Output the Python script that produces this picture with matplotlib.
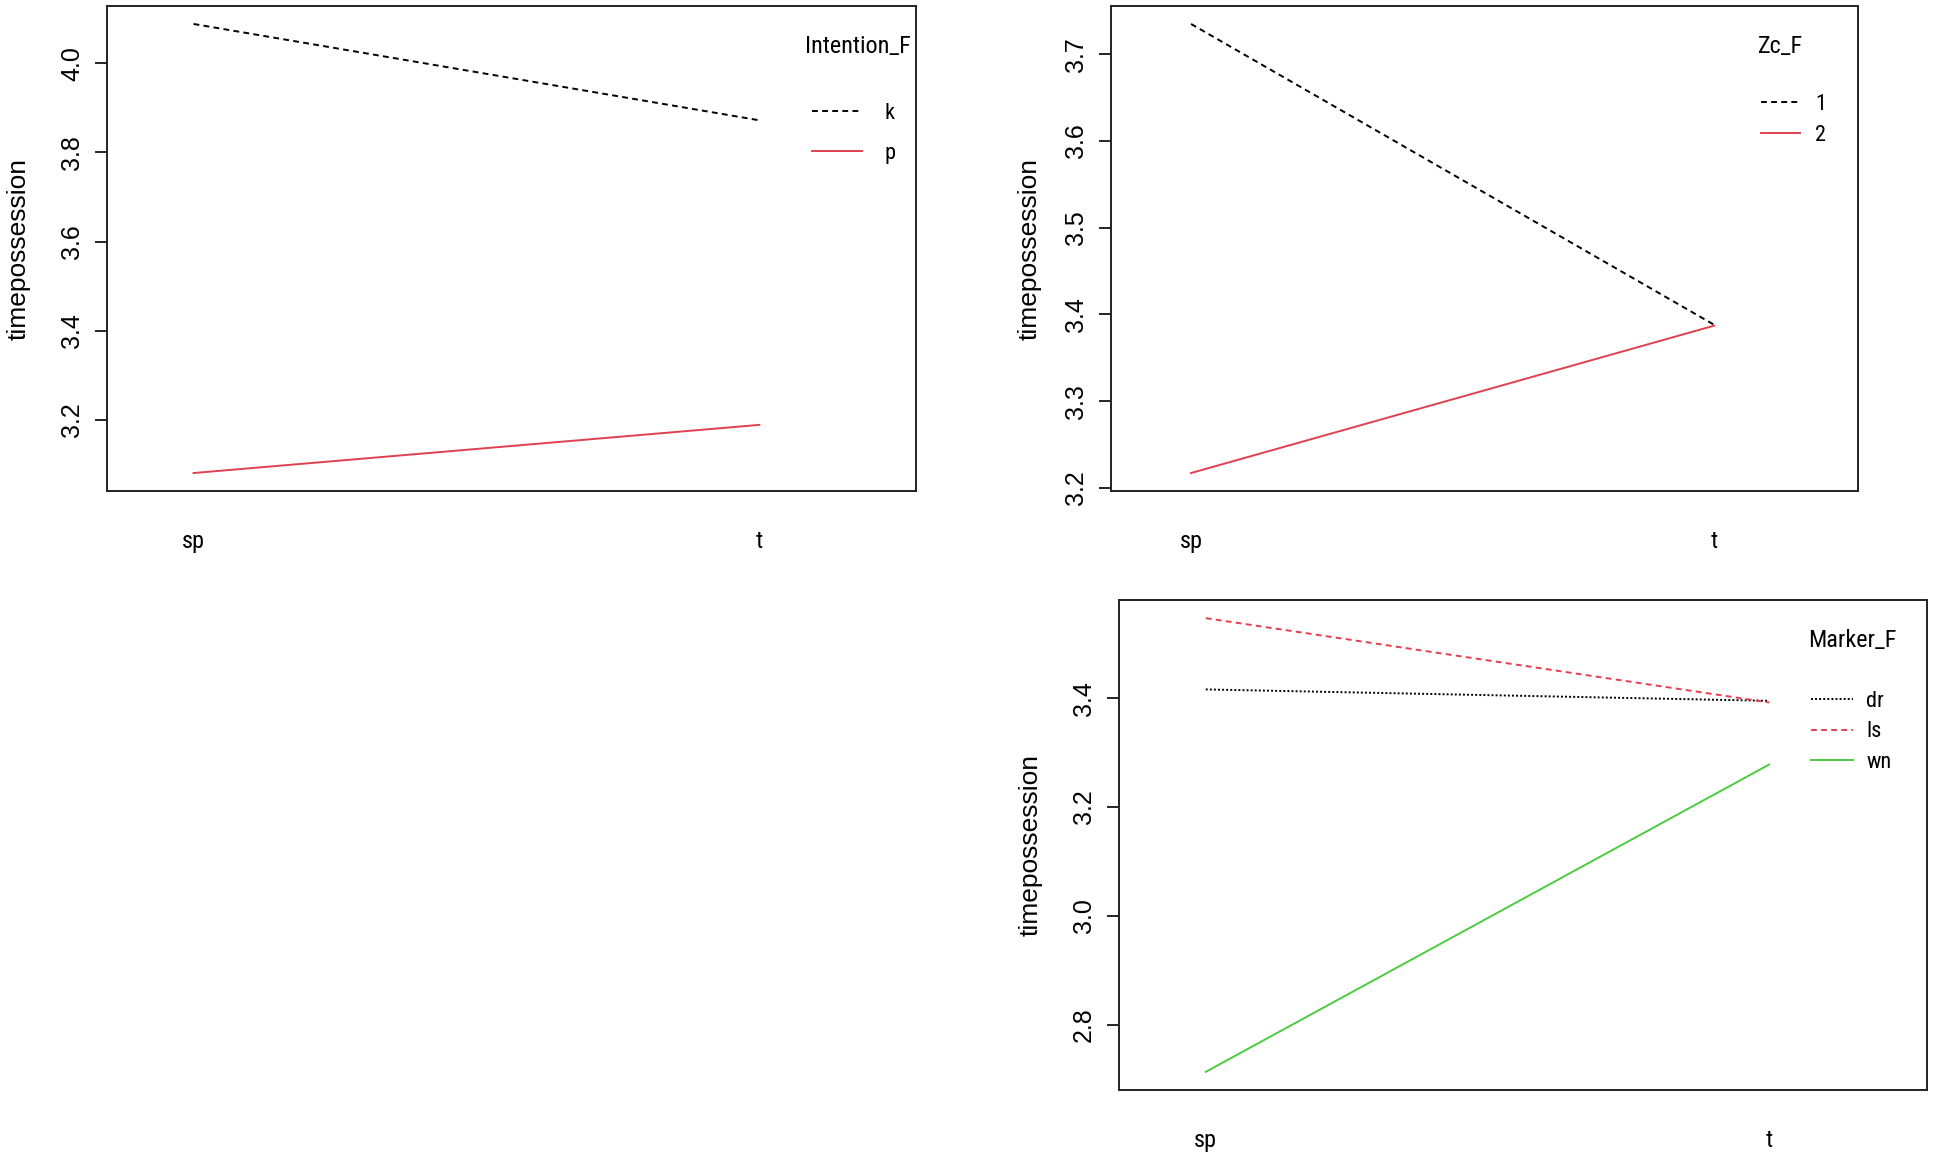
import numpy as np
import matplotlib
matplotlib.use('Agg')
import matplotlib.pyplot as plt
from matplotlib import font_manager
from matplotlib.font_manager import FontProperties
from matplotlib.textpath import TextPath

# values (interaction plots of timepossession)
X_LEVELS = ['sp', 't']

INTENTION_LEVELS = ['k', 'p']
INTENTION_K = [4.088, 3.872]
INTENTION_P = [3.081, 3.189]

ZC_LEVELS = ['1', '2']
ZC_1 = [3.735, 3.388]
ZC_2 = [3.217, 3.387]

MARKER_LEVELS = ['dr', 'ls', 'wn']
MARKER_DR = [3.416, 3.395]
MARKER_LS = [3.547, 3.392]
MARKER_WN = [2.713, 3.278]

RED = '#E0404F'
GREEN = '#4BCB3F'
DASHED = (0, (3.0, 2.2))
DOTTED = (0, (1.0, 1.1))

plt.rcParams['font.family'] = ['Liberation Sans', 'DejaVu Sans']

W, H = 1936, 1156
DPI = 100


def pick_narrow():
    # the legend / category text in the reference is a condensed face
    fonts = font_manager.fontManager.ttflist
    names = {f.name for f in fonts}
    for name in ['Liberation Sans Narrow', 'Roboto Condensed', 'Open Sans Condensed',
                 'Noto Sans Condensed', 'DejaVu Sans Condensed']:
        if name in names:
            return dict(family=[name, 'DejaVu Sans'])
    for f in fonts:
        if f.name in ('Noto Sans', 'Open Sans', 'DejaVu Sans') and f.stretch == 'condensed':
            return dict(family=[f.name, 'DejaVu Sans'], stretch='condensed')
    return dict(family=['Liberation Sans', 'DejaVu Sans'])


NARROW = pick_narrow()


def fit_size(text, target_px, max_pt):
    prop = FontProperties(size=100, **NARROW)
    width = TextPath((0, 0), text, prop=prop).get_extents().width
    size = 100 * (target_px * 72 / DPI) / width
    return min(size, max_pt)


TITLE_PT = fit_size('Intention_F', 103, 18)
ENTRY_PT = min(16, TITLE_PT * 0.92)
XCAT_PT = fit_size('sp', 23, 17.5)


def rect(left, top, right, bottom):
    return [left / W, 1 - bottom / H, (right - left) / W, (bottom - top) / H]


def r_ylim(series):
    vals = np.concatenate([np.asarray(s, dtype=float) for s in series])
    lo, hi = vals.min(), vals.max()
    pad = 0.04 * (hi - lo)
    return lo - pad, hi + pad


def draw_panel(ax, series, labels, styles, colors, title, yticks, xlim,
               labelpad, title_xy, leg_anchor, handlelength, textpad, spacing):
    xs = np.arange(1, len(X_LEVELS) + 1)
    handles = []
    for vals, style, color in zip(series, styles, colors):
        line, = ax.plot(xs, vals, color=color, linestyle=style, linewidth=1.4)
        handles.append(line)

    ax.set_xlim(*xlim)
    ax.set_ylim(*r_ylim(series))
    ax.set_yticks(yticks)
    ax.set_yticklabels([f'{t:.1f}' for t in yticks], rotation=90, va='center')
    ax.set_xticks(xs)
    ax.set_xticklabels(X_LEVELS, fontsize=XCAT_PT, **NARROW)
    ax.tick_params(axis='x', length=0, pad=28)
    ax.tick_params(axis='y', length=8.5, width=1.2, pad=8, labelsize=18)
    for sp in ax.spines.values():
        sp.set_linewidth(1.4)
        sp.set_color('#222222')
    ax.set_ylabel('timepossession', fontsize=19, labelpad=labelpad)

    ax.text(title_xy[0], title_xy[1], title, transform=ax.transAxes,
            ha='left', va='center', fontsize=TITLE_PT, **NARROW)
    ax.legend(handles, labels, loc='upper left', bbox_to_anchor=leg_anchor,
              frameon=False, borderpad=0, borderaxespad=0,
              handlelength=handlelength, handletextpad=textpad,
              labelspacing=spacing, prop=FontProperties(size=ENTRY_PT, **NARROW))


fig = plt.figure(figsize=(W / DPI, H / DPI), dpi=DPI)

ax1 = fig.add_axes(rect(107, 6, 916, 491))
draw_panel(ax1, [INTENTION_K, INTENTION_P], INTENTION_LEVELS, [DASHED, '-'],
           ['black', RED], 'Intention_F', np.arange(3.2, 4.01, 0.2),
           (0.847, 2.277), 21, (0.863, 0.9175), (0.8714, 0.801), 2.25, 1.0, 0.86)

ax2 = fig.add_axes(rect(1111, 6, 1858, 491))
draw_panel(ax2, [ZC_1, ZC_2], ZC_LEVELS, [DASHED, '-'],
           ['black', RED], 'Zc_F', np.arange(3.2, 3.71, 0.1),
           (0.847, 2.275), 16, (0.866, 0.9175), (0.870, 0.818), 1.75, 0.68, 0.44)

ax3 = fig.add_axes(rect(1119, 600, 1927, 1090))
draw_panel(ax3, [MARKER_DR, MARKER_LS, MARKER_WN], MARKER_LEVELS, [DOTTED, DASHED, '-'],
           ['black', RED, GREEN], 'Marker_F', np.arange(2.8, 3.41, 0.2),
           (0.846, 2.28), 21, (0.853, 0.918), (0.856, 0.815), 1.9, 0.6, 0.44)

fig.savefig('out.png', dpi=DPI)
